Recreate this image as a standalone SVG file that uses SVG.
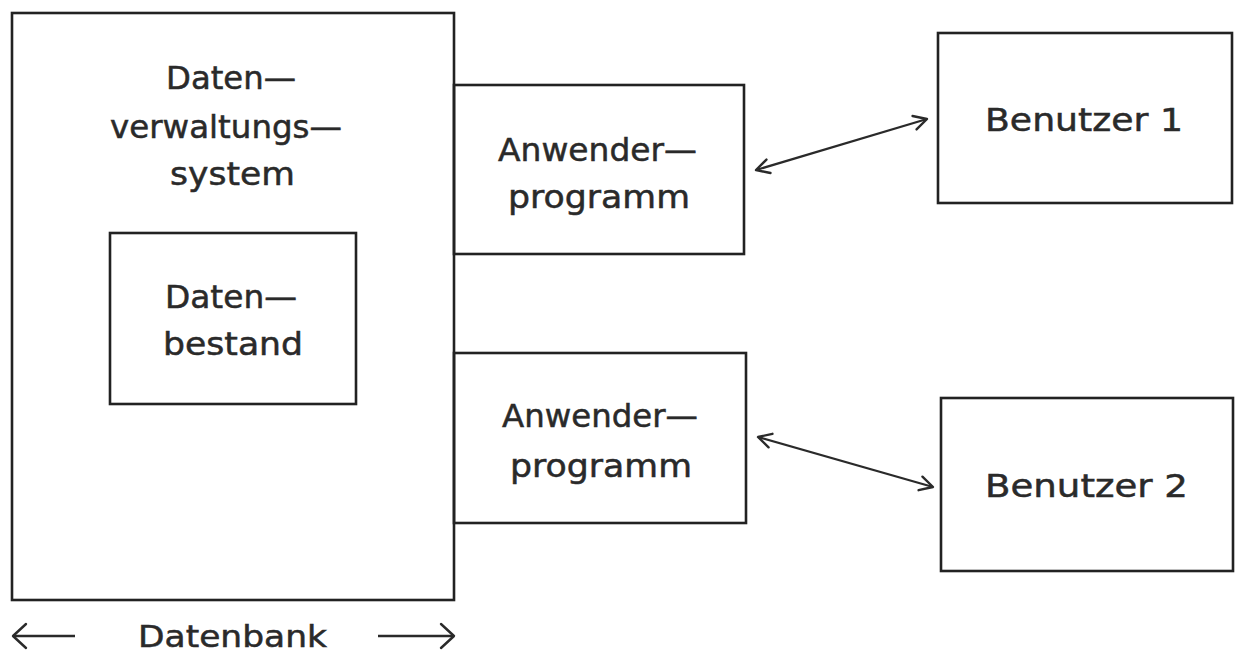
<svg xmlns="http://www.w3.org/2000/svg" width="1235" height="655" viewBox="0 0 1235 655">
<style>
.box{fill:none;stroke:#222;stroke-width:2.6}
.t{font-family:"DejaVu Sans","Liberation Sans",sans-serif;font-size:32px;fill:#2a2a2a;stroke:#2a2a2a;stroke-width:0.5}
.big{font-size:30px}
.ln{stroke:#2a2a2a;stroke-width:2.3;fill:none}
</style>
<defs>
<marker id="ah" markerUnits="userSpaceOnUse" markerWidth="20" markerHeight="20" refX="16" refY="10" orient="auto-start-reverse" viewBox="0 0 20 20">
<path d="M3,3 L16,10 L3,17" fill="none" stroke="#2a2a2a" stroke-width="2.4" stroke-linecap="round" stroke-linejoin="round"/>
</marker>
<marker id="ahb" markerUnits="userSpaceOnUse" markerWidth="24" markerHeight="30" refX="18" refY="15" orient="auto-start-reverse" viewBox="0 0 24 30">
<path d="M5,3 L18,15 L5,27" fill="none" stroke="#2a2a2a" stroke-width="2.4" stroke-linecap="round" stroke-linejoin="round"/>
</marker>
</defs>
<rect width="1235" height="655" fill="#fff"/>
<g id="dbms">
<rect class="box" x="12" y="13" width="442" height="587"/>
<text class="t" x="166" y="89" textLength="130" lengthAdjust="spacingAndGlyphs">Daten—</text>
<text class="t" x="110" y="138" textLength="232" lengthAdjust="spacingAndGlyphs">verwaltungs—</text>
<text class="t" x="170" y="185" textLength="125" lengthAdjust="spacingAndGlyphs">system</text>
</g>
<g id="datenbestand">
<rect class="box" x="110" y="233" width="246" height="171"/>
<text class="t" x="165" y="308" textLength="132" lengthAdjust="spacingAndGlyphs">Daten—</text>
<text class="t" x="163" y="355" textLength="140" lengthAdjust="spacingAndGlyphs">bestand</text>
</g>
<g id="anwender1">
<rect class="box" x="454" y="85" width="290" height="169"/>
<text class="t" x="498" y="161" textLength="199" lengthAdjust="spacingAndGlyphs">Anwender—</text>
<text class="t" x="508" y="208" textLength="182" lengthAdjust="spacingAndGlyphs">programm</text>
</g>
<g id="anwender2">
<rect class="box" x="454" y="353" width="292" height="170"/>
<text class="t" x="502" y="427" textLength="196" lengthAdjust="spacingAndGlyphs">Anwender—</text>
<text class="t" x="510" y="477" textLength="182" lengthAdjust="spacingAndGlyphs">programm</text>
</g>
<g id="benutzer1">
<rect class="box" x="938" y="33" width="294" height="170"/>
<text class="t" x="985" y="131" textLength="198" lengthAdjust="spacingAndGlyphs">Benutzer 1</text>
</g>
<g id="benutzer2">
<rect class="box" x="941" y="398" width="292" height="173"/>
<text class="t" x="985" y="497" textLength="203" lengthAdjust="spacingAndGlyphs">Benutzer 2</text>
</g>
<g id="datenbank-label">
<text class="t big" x="138" y="647" textLength="189" lengthAdjust="spacingAndGlyphs">Datenbank</text>
</g>
<g id="connectors">
<line class="ln" x1="756" y1="170" x2="927" y2="119" marker-start="url(#ah)" marker-end="url(#ah)"/>
<line class="ln" x1="758" y1="437" x2="933" y2="487" marker-start="url(#ah)" marker-end="url(#ah)"/>
<line class="ln" x1="13" y1="636" x2="75" y2="636" marker-start="url(#ahb)"/>
<line class="ln" x1="378" y1="636" x2="454" y2="636" marker-end="url(#ahb)"/>
</g>
</svg>
